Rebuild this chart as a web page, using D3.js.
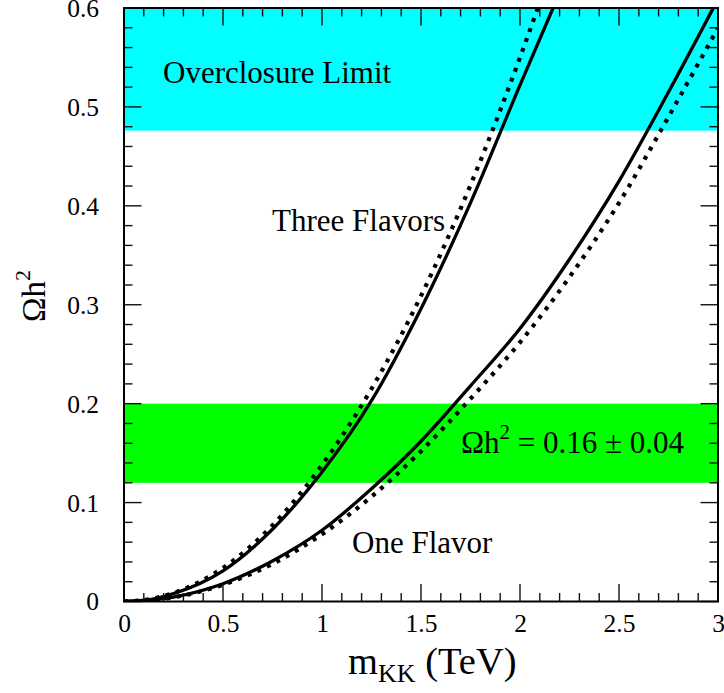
<!DOCTYPE html>
<html>
<head>
<meta charset="utf-8">
<script src="https://cdn.jsdelivr.net/npm/d3@7"></script>
<style>
  html, body { margin: 0; padding: 0; background: #fff; }
  svg { display: block; }
  svg text { font-family: "Liberation Serif", "Times New Roman", serif; fill: #000; }
</style>
</head>
<body>
<svg id="chart" width="724" height="693"></svg>
<script>
// ---- data ----
const threeSolidM = [0, 0.1, 0.25, 0.5, 0.75, 1.0, 1.25, 1.5, 1.75, 2.0, 2.167];
const threeSolidO = [0, 0.001, 0.008, 0.031, 0.073, 0.131, 0.203, 0.296, 0.403, 0.522, 0.6];
const threeDashM  = [0, 0.1, 0.25, 0.5, 0.75, 1.0, 1.25, 1.5, 1.75, 2.0, 2.09];
const threeDashO  = [0, 0.0014, 0.0086, 0.034, 0.077, 0.138, 0.215, 0.309, 0.421, 0.55, 0.6];
const oneSolidM   = [0, 0.25, 0.5, 0.75, 1.0, 1.25, 1.5, 1.75, 2.0, 2.25, 2.5, 2.75, 2.976];
const oneSolidO   = [0, 0.0045, 0.018, 0.041, 0.072, 0.114, 0.162, 0.218, 0.276, 0.346, 0.425, 0.515, 0.6];
const oneDashM    = [0, 0.25, 0.5, 0.75, 1.0, 1.25, 1.5, 1.75, 2.0, 2.25, 2.5, 2.75, 3.0];
const oneDashO    = [0, 0.0042, 0.017, 0.038, 0.068, 0.106, 0.152, 0.205, 0.262, 0.328, 0.403, 0.49, 0.58];
const overclosureBand = [0.476, 0.6];
const wmapBand = [0.12, 0.2];
const xTickValues = [0, 0.5, 1, 1.5, 2, 2.5, 3];
const xTickLabels = ["0", "0.5", "1", "1.5", "2", "2.5", "3"];
const yTickValues = [0, 0.1, 0.2, 0.3, 0.4, 0.5, 0.6];
const yTickLabels = ["0", "0.1", "0.2", "0.3", "0.4", "0.5", "0.6"];
const xMinor = d3.range(0, 3.0001, 0.1);
const yMinor = d3.range(0, 0.6001, 0.02);

// ---- layout ----
const SERIF = '"Liberation Serif", "Times New Roman", serif';
const L = 124, R = 718, T = 8, B = 601.5;
const svg = d3.select("#chart");
const x = d3.scaleLinear().domain([0, 3]).range([L, R]);
const y = d3.scaleLinear().domain([0, 0.6]).range([B, T]);

svg.append("defs").append("clipPath").attr("id", "clip")
  .append("rect").attr("x", L).attr("y", T).attr("width", R - L).attr("height", B - T);

// bands
svg.append("rect").attr("x", L).attr("width", R - L)
  .attr("y", y(overclosureBand[1])).attr("height", y(overclosureBand[0]) - y(overclosureBand[1]))
  .attr("fill", "#00ffff");
svg.append("rect").attr("x", L).attr("width", R - L)
  .attr("y", y(wmapBand[1])).attr("height", y(wmapBand[0]) - y(wmapBand[1]))
  .attr("fill", "#00ff00");

// curves
const line = d3.line().x(d => x(d[0])).y(d => y(d[1])).curve(d3.curveMonotoneX);
const curves = [
  { m: threeSolidM, o: threeSolidO, dash: null },
  { m: threeDashM,  o: threeDashO,  dash: "4,6.6" },
  { m: oneSolidM,   o: oneSolidO,   dash: null },
  { m: oneDashM,    o: oneDashO,    dash: "4,6.6" }
];
const g = svg.append("g").attr("clip-path", "url(#clip)");
curves.forEach(c => {
  g.append("path")
    .attr("d", line(d3.zip(c.m, c.o)))
    .attr("fill", "none").attr("stroke", "#000")
    .attr("stroke-width", c.dash ? 4.2 : 3.3)
    .attr("stroke-dasharray", c.dash);
});

// ticks (inward, all four sides)
const tk = svg.append("g").attr("stroke", "#111").attr("stroke-width", 1.4);
xMinor.forEach(v => {
  const major = Math.abs(v * 2 - Math.round(v * 2)) < 1e-6;
  const len = major ? 17.5 : 8.5;
  tk.append("line").attr("x1", x(v)).attr("x2", x(v)).attr("y1", B).attr("y2", B - len);
  tk.append("line").attr("x1", x(v)).attr("x2", x(v)).attr("y1", T).attr("y2", T + len);
});
yMinor.forEach(v => {
  const major = Math.abs(v * 10 - Math.round(v * 10)) < 1e-6;
  const len = major ? 17.5 : 8.5;
  tk.append("line").attr("y1", y(v)).attr("y2", y(v)).attr("x1", L).attr("x2", L + len);
  tk.append("line").attr("y1", y(v)).attr("y2", y(v)).attr("x1", R).attr("x2", R - len);
});

// frame
svg.append("rect").attr("x", L).attr("y", T).attr("width", R - L).attr("height", B - T)
  .attr("fill", "none").attr("stroke", "#000").attr("stroke-width", 2);

// tick labels via axes (no lines)
const xAxis = d3.axisBottom(x).tickValues(xTickValues)
  .tickFormat((d, i) => xTickLabels[i]).tickSize(0).tickPadding(0);
const xa = svg.append("g").attr("transform", `translate(0,${B + 30.5})`).call(xAxis);
xa.select(".domain").remove();
xa.selectAll("text").attr("dy", 0).style("font-size", "25.5px").style("font-family", SERIF);

const yAxis = d3.axisLeft(y).tickValues(yTickValues)
  .tickFormat((d, i) => yTickLabels[i]).tickSize(0).tickPadding(0);
const ya = svg.append("g").attr("transform", `translate(99,0)`).call(yAxis);
ya.select(".domain").remove();
ya.selectAll("text").attr("dy", "0.33em").style("font-size", "25.5px").style("font-family", SERIF);

// axis titles
const xt = svg.append("text").attr("x", 348).attr("y", 674).style("font-size", "38.5px");
xt.append("tspan").text("m");
xt.append("tspan").style("font-size", "26px").attr("dy", 8).text("KK");
xt.append("tspan").attr("dy", -8).text(" (TeV)");

const yt = svg.append("text").attr("transform", "translate(45,296) rotate(-90)")
  .attr("text-anchor", "middle").style("font-size", "33px");
yt.append("tspan").text("Ωh");
yt.append("tspan").style("font-size", "22px").attr("dy", -15).text("2");

// annotations
svg.append("text").attr("x", 163).attr("y", 83).style("font-size", "31px").text("Overclosure Limit");
svg.append("text").attr("x", 272).attr("y", 231).style("font-size", "31px").text("Three Flavors");
svg.append("text").attr("x", 352).attr("y", 552.5).style("font-size", "31px").text("One Flavor");
const wt = svg.append("text").attr("x", 461).attr("y", 453).style("font-size", "31px");
wt.append("tspan").text("Ωh");
wt.append("tspan").style("font-size", "21px").attr("dy", -14).text("2");
wt.append("tspan").attr("dy", 14).text(" = 0.16 ± 0.04");
</script>
</body>
</html>
